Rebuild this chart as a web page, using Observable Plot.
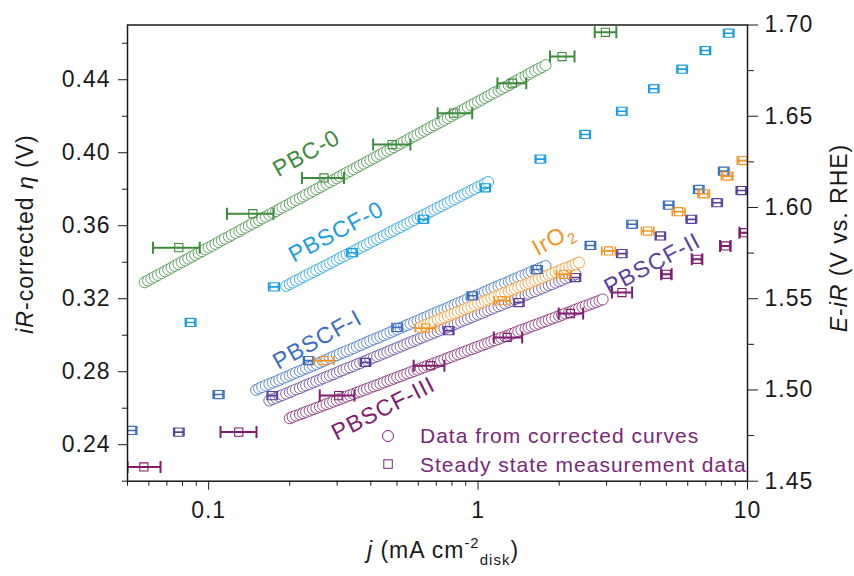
<!DOCTYPE html>
<html><head><meta charset="utf-8">
<script src="https://cdn.jsdelivr.net/npm/d3@7"></script>
<script src="https://cdn.jsdelivr.net/npm/@observablehq/plot@0.6"></script>
<style>
html,body{margin:0;padding:0;background:#fff;}
#chart svg text{letter-spacing:1px;}
</style></head><body><div id="chart"></div>
<script>
// ---------- Data from corrected curves (j in mA cm^-2 disk, eta in V) ----------
const pbc0J = [0.0579,0.0596,0.0613,0.0631,0.0649,0.0668,0.0688,0.0708,0.0729,0.0750,
0.0772,0.0794,0.0818,0.0841,0.0866,0.0891,0.0917,0.0944,0.0972,0.100,
0.103,0.106,0.109,0.112,0.115,0.119,0.122,0.126,0.130,0.133,
0.137,0.141,0.145,0.150,0.154,0.158,0.163,0.168,0.173,0.178,
0.183,0.188,0.194,0.200,0.205,0.211,0.218,0.224,0.230,0.237,
0.244,0.251,0.259,0.266,0.274,0.282,0.290,0.299,0.307,0.316,
0.325,0.335,0.345,0.355,0.365,0.376,0.387,0.398,0.410,0.422,
0.434,0.447,0.460,0.473,0.487,0.501,0.516,0.531,0.546,0.562,
0.579,0.596,0.613,0.631,0.649,0.668,0.688,0.708,0.729,0.750,
0.772,0.794,0.818,0.841,0.866,0.891,0.917,0.944,0.972,1.00,
1.03,1.06,1.09,1.12,1.15,1.19,1.22,1.26,1.30,1.33,
1.37,1.41,1.45,1.50,1.54,1.58,1.63,1.68,1.73,1.78];
const pbc0Eta = [0.329,0.330,0.331,0.332,0.333,0.334,0.335,0.336,0.337,0.338,
0.339,0.340,0.341,0.342,0.343,0.344,0.345,0.346,0.347,0.348,
0.349,0.350,0.351,0.352,0.353,0.354,0.355,0.356,0.357,0.358,
0.359,0.360,0.361,0.362,0.363,0.364,0.365,0.366,0.367,0.368,
0.369,0.370,0.371,0.372,0.373,0.374,0.375,0.376,0.377,0.378,
0.379,0.380,0.381,0.382,0.383,0.384,0.385,0.386,0.387,0.388,
0.389,0.390,0.391,0.392,0.393,0.394,0.395,0.396,0.397,0.398,
0.399,0.400,0.401,0.402,0.403,0.404,0.405,0.406,0.407,0.408,
0.409,0.410,0.411,0.412,0.413,0.414,0.415,0.416,0.417,0.418,
0.419,0.420,0.421,0.422,0.423,0.424,0.425,0.426,0.427,0.428,
0.429,0.430,0.431,0.432,0.433,0.434,0.435,0.436,0.437,0.438,
0.439,0.440,0.441,0.442,0.443,0.444,0.445,0.446,0.447,0.448];

const pbscf0J = [0.194,0.200,0.205,0.211,0.218,0.224,0.230,0.237,0.244,0.251,
0.259,0.266,0.274,0.282,0.290,0.299,0.307,0.316,0.325,0.335,
0.345,0.355,0.365,0.376,0.387,0.398,0.410,0.422,0.434,0.447,
0.460,0.473,0.487,0.501,0.516,0.531,0.546,0.562,0.579,0.596,
0.613,0.631,0.649,0.668,0.688,0.708,0.729,0.750,0.772,0.794,
0.818,0.841,0.866,0.891,0.917,0.944,0.972,1.00,1.03,1.06,1.09];
const pbscf0Eta = [0.3270,0.3280,0.3289,0.3299,0.3308,0.3318,0.3327,0.3337,0.3346,0.3356,
0.3365,0.3375,0.3384,0.3394,0.3403,0.3413,0.3422,0.3432,0.3441,0.3451,
0.3460,0.3470,0.3479,0.3489,0.3498,0.3508,0.3517,0.3527,0.3536,0.3546,
0.3555,0.3565,0.3574,0.3584,0.3593,0.3603,0.3612,0.3622,0.3631,0.3641,
0.3650,0.3660,0.3669,0.3679,0.3688,0.3698,0.3707,0.3717,0.3726,0.3736,
0.3745,0.3755,0.3764,0.3774,0.3783,0.3793,0.3802,0.3812,0.3821,0.3831,0.3840];

const pbscf1J = [0.150,0.154,0.158,0.163,0.168,0.173,0.178,0.183,0.188,0.194,
0.200,0.205,0.211,0.218,0.224,0.230,0.237,0.244,0.251,0.259,
0.266,0.274,0.282,0.290,0.299,0.307,0.316,0.325,0.335,0.345,
0.355,0.365,0.376,0.387,0.398,0.410,0.422,0.434,0.447,0.460,
0.473,0.487,0.501,0.516,0.531,0.546,0.562,0.579,0.596,0.613,
0.631,0.649,0.668,0.688,0.708,0.729,0.750,0.772,0.794,0.818,
0.841,0.866,0.891,0.917,0.944,0.972,1.00,1.03,1.06,1.09,
1.12,1.15,1.19,1.22,1.26,1.30,1.33,1.37,1.41,1.45,
1.50,1.54,1.58,1.63,1.68,1.73,1.78];
const pbscf1Eta = [0.2700,0.2708,0.2716,0.2724,0.2732,0.2740,0.2747,0.2755,0.2763,0.2771,
0.2779,0.2787,0.2795,0.2803,0.2811,0.2819,0.2826,0.2834,0.2842,0.2850,
0.2858,0.2866,0.2874,0.2882,0.2890,0.2898,0.2905,0.2913,0.2921,0.2929,
0.2937,0.2945,0.2953,0.2961,0.2969,0.2977,0.2984,0.2992,0.3000,0.3008,
0.3016,0.3024,0.3032,0.3040,0.3048,0.3056,0.3063,0.3071,0.3079,0.3087,
0.3095,0.3103,0.3111,0.3119,0.3127,0.3135,0.3142,0.3150,0.3158,0.3166,
0.3174,0.3182,0.3190,0.3198,0.3206,0.3214,0.3221,0.3229,0.3237,0.3245,
0.3253,0.3261,0.3269,0.3277,0.3285,0.3293,0.3300,0.3308,0.3316,0.3324,
0.3332,0.3340,0.3348,0.3356,0.3364,0.3372,0.3379];

const iro2J = [0.613,0.631,0.649,0.668,0.688,0.708,0.729,0.750,0.772,0.794,
0.818,0.841,0.866,0.891,0.917,0.944,0.972,1.00,1.03,1.06,
1.09,1.12,1.15,1.19,1.22,1.26,1.30,1.33,1.37,1.41,
1.45,1.50,1.54,1.58,1.63,1.68,1.73,1.78,1.83,1.88,
1.94,2.00,2.05,2.11,2.18,2.24,2.30,2.37];
const iro2Eta = [0.3045,0.3053,0.3060,0.3068,0.3075,0.3083,0.3090,0.3098,0.3105,0.3113,
0.3120,0.3128,0.3135,0.3143,0.3150,0.3158,0.3165,0.3173,0.3180,0.3188,
0.3195,0.3203,0.3210,0.3218,0.3225,0.3233,0.3240,0.3248,0.3255,0.3263,
0.3270,0.3278,0.3285,0.3293,0.3300,0.3308,0.3315,0.3323,0.3330,0.3338,
0.3345,0.3353,0.3360,0.3368,0.3375,0.3383,0.3390,0.3398];

const pbscf2J = [0.168,0.173,0.178,0.183,0.188,0.194,0.200,0.205,0.211,0.218,
0.224,0.230,0.237,0.244,0.251,0.259,0.266,0.274,0.282,0.290,
0.299,0.307,0.316,0.325,0.335,0.345,0.355,0.365,0.376,0.387,
0.398,0.410,0.422,0.434,0.447,0.460,0.473,0.487,0.501,0.516,
0.531,0.546,0.562,0.579,0.596,0.613,0.631,0.649,0.668,0.688,
0.708,0.729,0.750,0.772,0.794,0.818,0.841,0.866,0.891,0.917,
0.944,0.972,1.00,1.03,1.06,1.09,1.12,1.15,1.19,1.22,
1.26,1.30,1.33,1.37,1.41,1.45,1.50,1.54,1.58,1.63,
1.68,1.73,1.78,1.83,1.88,1.94,2.00,2.05,2.11,2.18,
2.24,2.30];
const pbscf2Eta = [0.2642,0.2650,0.2657,0.2665,0.2672,0.2680,0.2688,0.2695,0.2703,0.2710,
0.2718,0.2726,0.2733,0.2741,0.2748,0.2756,0.2764,0.2771,0.2779,0.2786,
0.2794,0.2802,0.2809,0.2817,0.2824,0.2832,0.2840,0.2847,0.2855,0.2862,
0.2870,0.2878,0.2885,0.2893,0.2900,0.2908,0.2916,0.2923,0.2931,0.2938,
0.2946,0.2954,0.2961,0.2969,0.2976,0.2984,0.2992,0.2999,0.3007,0.3014,
0.3022,0.3030,0.3037,0.3045,0.3052,0.3060,0.3068,0.3075,0.3083,0.3090,
0.3098,0.3106,0.3113,0.3121,0.3128,0.3136,0.3144,0.3151,0.3159,0.3166,
0.3174,0.3182,0.3189,0.3197,0.3204,0.3212,0.3220,0.3227,0.3235,0.3242,
0.3250,0.3258,0.3265,0.3273,0.3280,0.3288,0.3296,0.3303,0.3311,0.3318,
0.3326,0.3334];

const pbscf3J = [0.200,0.205,0.211,0.218,0.224,0.230,0.237,0.244,0.251,0.259,
0.266,0.274,0.282,0.290,0.299,0.307,0.316,0.325,0.335,0.345,
0.355,0.365,0.376,0.387,0.398,0.410,0.422,0.434,0.447,0.460,
0.473,0.487,0.501,0.516,0.531,0.546,0.562,0.579,0.596,0.613,
0.631,0.649,0.668,0.688,0.708,0.729,0.750,0.772,0.794,0.818,
0.841,0.866,0.891,0.917,0.944,0.972,1.00,1.03,1.06,1.09,
1.12,1.15,1.19,1.22,1.26,1.30,1.33,1.37,1.41,1.45,
1.50,1.54,1.58,1.63,1.68,1.73,1.78,1.83,1.88,1.94,
2.00,2.05,2.11,2.18,2.24,2.30,2.37,2.44,2.51,2.59,
2.66,2.74,2.82,2.90];
const pbscf3Eta = [0.2545,0.2552,0.2559,0.2566,0.2573,0.2580,0.2587,0.2594,0.2601,0.2608,
0.2615,0.2622,0.2629,0.2636,0.2643,0.2650,0.2657,0.2664,0.2671,0.2678,
0.2685,0.2692,0.2699,0.2706,0.2713,0.2720,0.2727,0.2734,0.2741,0.2748,
0.2755,0.2762,0.2769,0.2776,0.2783,0.2790,0.2797,0.2804,0.2811,0.2818,
0.2825,0.2832,0.2839,0.2846,0.2853,0.2860,0.2867,0.2874,0.2881,0.2888,
0.2895,0.2902,0.2909,0.2916,0.2923,0.2930,0.2937,0.2944,0.2951,0.2958,
0.2965,0.2972,0.2979,0.2986,0.2993,0.3000,0.3007,0.3014,0.3021,0.3028,
0.3035,0.3042,0.3049,0.3056,0.3063,0.3070,0.3077,0.3084,0.3091,0.3098,
0.3105,0.3112,0.3119,0.3126,0.3133,0.3140,0.3147,0.3154,0.3161,0.3168,
0.3175,0.3182,0.3189,0.3196];

// ---------- Steady state measurement data (j, eta, j error low / high) ----------
const ssPbc0J   = [0.0775,0.146,0.268,0.480,0.812,1.34,2.05,2.97];
const ssPbc0Eta = [0.348,0.3666,0.3862,0.4045,0.4217,0.4381,0.4527,0.466];
const ssPbc0Lo  = [0.0622,0.117,0.222,0.408,0.708,1.18,1.85,2.71];
const ssPbc0Hi  = [0.0927,0.174,0.318,0.561,0.951,1.51,2.28,3.26];

const ssPbscf0J   = [0.0857,0.175,0.341,0.627,1.065,1.70,2.50,3.42,4.49,5.72,6.98,8.52];
const ssPbscf0Eta = [0.307,0.3265,0.3452,0.3635,0.3808,0.3965,0.410,0.4227,0.4351,0.4458,0.456,0.4655];
const ssPbscf0Lo  = [0.0820,0.167,0.326,0.600,1.02,1.63,2.39,3.27,4.30,5.47,6.68,8.15];
const ssPbscf0Hi  = [0.0896,0.183,0.356,0.655,1.11,1.78,2.61,3.57,4.69,5.98,7.29,8.90];

const ssPbscf1J   = [0.0518,0.109,0.235,0.501,0.953,1.656,2.61,3.73,5.10,6.59,8.16];
const ssPbscf1Eta = [0.2478,0.2675,0.2861,0.3043,0.3216,0.336,0.3492,0.3608,0.3713,0.3799,0.3899];
const ssPbscf1Lo  = [0.0496,0.104,0.225,0.479,0.912,1.58,2.50,3.57,4.88,6.31,7.81];
const ssPbscf1Hi  = [0.0541,0.114,0.246,0.524,0.996,1.73,2.73,3.90,5.33,6.89,8.53];

const ssIro2J   = [0.268,0.638,1.228,2.08,3.05,4.26,5.55,6.88,8.40,9.63];
const ssIro2Eta = [0.2861,0.3039,0.3189,0.3334,0.3462,0.3571,0.3677,0.3775,0.3872,0.3957];
const ssIro2Lo  = [0.246,0.585,1.148,1.953,2.877,4.04,5.26,6.55,8.00,9.17];
const ssIro2Hi  = [0.292,0.695,1.314,2.215,3.233,4.49,5.86,7.22,8.82,10.1];

const ssPbscf2J   = [0.0775,0.172,0.382,0.778,1.416,2.30,3.42,4.75,6.19,7.71,9.49];
const ssPbscf2Eta = [0.2469,0.2669,0.2851,0.3025,0.3179,0.3316,0.3447,0.3544,0.3635,0.3726,0.3793];
const ssPbscf2Lo  = [0.0742,0.165,0.366,0.745,1.36,2.20,3.27,4.55,5.92,7.38,9.08];
const ssPbscf2Hi  = [0.0810,0.180,0.399,0.813,1.48,2.40,3.57,4.96,6.47,8.06,9.92];

const ssPbscf3J   = [0.0575,0.1294,0.304,0.666,1.282,2.20,3.42,5.00,6.50,8.28,9.76];
const ssPbscf3Eta = [0.2278,0.2469,0.2669,0.2833,0.2988,0.3119,0.3234,0.3334,0.3416,0.3489,0.3562];
const ssPbscf3Lo  = [0.050,0.1107,0.2585,0.577,1.144,1.992,3.14,4.78,6.21,7.91,9.33];
const ssPbscf3Hi  = [0.0663,0.1506,0.3477,0.750,1.458,2.455,3.73,5.23,6.80,8.66,10.2];

// ---------- Tick values ----------
const xMajorTicks = [0.1, 1, 10];
const xMinorTicks = [0.05,0.06,0.07,0.08,0.09,0.2,0.3,0.4,0.5,0.6,0.7,0.8,0.9,2,3,4,5,6,7,8,9];
const etaMajorTicks = [0.24,0.28,0.32,0.36,0.40,0.44];
const etaMinorTicks = [0.22,0.26,0.30,0.34,0.38,0.42,0.46];
const eMajorTicks = [1.45,1.50,1.55,1.60,1.65,1.70];
const eMinorTicks = [1.475,1.525,1.575,1.625,1.675];
const eOffset = 1.23; // E - iR = 1.23 V + eta

// ---------- Styling ----------
const C = {pbc0:"#3d8c3d", pbscf0:"#1b9de2", pbscf1:"#3a6ec3", iro2:"#f7921e", pbscf2:"#5a3f9d", pbscf3:"#7f1d6e"};
const legendColor = "#7b2677";
const rows = (J, E) => J.map((j, i) => ({j, eta: E[i]}));
const vline = {draw(ctx, size){ const h = Math.sqrt(size/Math.PI); ctx.moveTo(0,-h); ctx.lineTo(0,h); }};

function curve(J, E, color){
  return Plot.dot(rows(J,E), {x:"j", y:"eta", r:5.5, fill:"white", stroke:color, strokeWidth:0.8});
}
function steady(J, E, Lo, Hi, color, w, cap){
  const d = J.map((j,i) => ({j, eta:E[i], lo:Lo[i], hi:Hi[i]}));
  return [
    Plot.ruleY(d, {y:"eta", x1:"lo", x2:"hi", stroke:color, strokeWidth:w, clip:true}),
    Plot.dot(d, {x:"lo", y:"eta", symbol:vline, r:cap, stroke:color, strokeWidth:w, fill:"none", clip:true}),
    Plot.dot(d, {x:"hi", y:"eta", symbol:vline, r:cap, stroke:color, strokeWidth:w, fill:"none", clip:true}),
    Plot.dot(d, {x:"j", y:"eta", symbol:"square", r:4.6, stroke:color, strokeWidth:1.1, fill:"none", clip:true})
  ];
}

const chart = Plot.plot({
  width: 854, height: 576,
  marginLeft: 127, marginRight: 107, marginTop: 24.5, marginBottom: 95.3,
  style: {fontFamily: '"Liberation Sans", Arial, sans-serif', fontSize: "23px", color: "#1a1a1a", background: "#fff", overflow: "visible"},
  x: {type: "log", domain: [0.05, 10]},
  y: {domain: [0.22, 0.47]},
  marks: [
    curve(pbc0J, pbc0Eta, C.pbc0),
    curve(pbscf0J, pbscf0Eta, C.pbscf0),
    curve(pbscf3J, pbscf3Eta, C.pbscf3),
    curve(pbscf2J, pbscf2Eta, C.pbscf2),
    curve(pbscf1J, pbscf1Eta, C.pbscf1),
    curve(iro2J, iro2Eta, C.iro2),
    steady(ssPbc0J, ssPbc0Eta, ssPbc0Lo, ssPbc0Hi, C.pbc0, 2, 6),
    steady(ssPbscf0J, ssPbscf0Eta, ssPbscf0Lo, ssPbscf0Hi, C.pbscf0, 1.6, 4.5),
    steady(ssPbscf1J, ssPbscf1Eta, ssPbscf1Lo, ssPbscf1Hi, C.pbscf1, 1.6, 4.5),
    steady(ssPbscf2J, ssPbscf2Eta, ssPbscf2Lo, ssPbscf2Hi, C.pbscf2, 1.6, 4.5),
    steady(ssIro2J, ssIro2Eta, ssIro2Lo, ssIro2Hi, C.iro2, 1.6, 4.5),
    steady(ssPbscf3J, ssPbscf3Eta, ssPbscf3Lo, ssPbscf3Hi, C.pbscf3, 2, 6),
    Plot.axisY({anchor:"left", ticks: etaMajorTicks, tickSize: 9, tickPadding: 8, tickFormat: d => d.toFixed(2), label: null}),
    Plot.axisY({anchor:"left", ticks: etaMinorTicks, tickSize: 5, tickFormat: () => "", label: null}),
    Plot.axisY({anchor:"right", ticks: eMajorTicks.map(e => e - eOffset), tickSize: 10, tickPadding: 7, tickFormat: d => (d + eOffset).toFixed(2), label: null}),
    Plot.axisY({anchor:"right", ticks: eMinorTicks.map(e => e - eOffset), tickSize: 6, tickFormat: () => "", label: null}),
    Plot.axisX({anchor:"bottom", ticks: xMajorTicks, tickSize: 9, tickPadding: 11, tickFormat: d => String(d), label: null}),
    Plot.axisX({anchor:"bottom", ticks: xMinorTicks, tickSize: 5, tickFormat: () => "", label: null}),
    Plot.frame({stroke: "#1a1a1a", strokeWidth: 1.5})
  ]
});
document.getElementById("chart").append(chart);

const xs = chart.scale("x"), ys = chart.scale("y");
const svg = d3.select(chart);

// in-plot series labels (anchored in data coordinates)
const seriesLabels = [
  {t:"PBC-0", j:0.231, e:0.3997, a:-29, c:C.pbc0},
  {t:"PBSCF-0", j:0.298, e:0.3566, a:-28, c:C.pbscf0},
  {t:"PBSCF-I", j:0.2535, e:0.2975, a:-29, c:C.pbscf1},
  {t:"PBSCF-III", j:0.446, e:0.2598, a:-27, c:C.pbscf3},
  {t:"PBSCF-II", j:4.44, e:0.3391, a:-28, c:C.pbscf2},
  {t:"IrO", sub:"2", j:1.905, e:0.3527, a:-29, c:C.iro2}
];
const lg = svg.append("g").attr("font-size", 23);
for (const L of seriesLabels) {
  const t = lg.append("text")
    .attr("transform", `translate(${xs.apply(L.j)},${ys.apply(L.e)}) rotate(${L.a})`)
    .attr("text-anchor", "middle").attr("dy", "0.35em").attr("fill", L.c);
  t.append("tspan").text(L.t);
  if (L.sub) t.append("tspan").attr("font-size", 15).attr("dy", 6).text(L.sub);
}

// axis titles
const lt = svg.append("text").attr("transform", "translate(33,234) rotate(-90)").attr("text-anchor", "middle").attr("font-size", 23).attr("fill", "#1a1a1a");
lt.append("tspan").attr("font-style", "italic").text("iR");
lt.append("tspan").text("-corrected ");
lt.append("tspan").attr("font-style", "italic").text("η");
lt.append("tspan").text(" (V)");

const rt = svg.append("text").attr("transform", "translate(847,238) rotate(-90)").attr("text-anchor", "middle").attr("font-size", 23).attr("fill", "#1a1a1a");
rt.append("tspan").attr("font-style", "italic").text("E");
rt.append("tspan").text("-");
rt.append("tspan").attr("font-style", "italic").text("iR");
rt.append("tspan").text(" (V vs. RHE)");

const bt = svg.append("text").attr("x", 443).attr("y", 558).attr("text-anchor", "middle").attr("font-size", 23).attr("fill", "#1a1a1a");
bt.append("tspan").attr("font-style", "italic").text("j");
bt.append("tspan").text(" (mA cm");
bt.append("tspan").attr("font-size", 15).attr("dy", -10).text("-2");
bt.append("tspan").attr("font-size", 15).attr("dy", 17).text("disk");
bt.append("tspan").attr("dy", -7).text(")");

// legend
svg.append("circle").attr("cx", 388).attr("cy", 436).attr("r", 5.5).attr("fill", "none").attr("stroke", legendColor).attr("stroke-width", 1);
svg.append("rect").attr("x", 383.8).attr("y", 459.8).attr("width", 8.5).attr("height", 8.5).attr("fill", "none").attr("stroke", legendColor).attr("stroke-width", 1);
svg.append("text").attr("x", 420).attr("y", 443).attr("text-anchor", "start").attr("font-size", 21).attr("fill", legendColor).text("Data from corrected curves");
svg.append("text").attr("x", 420).attr("y", 472).attr("text-anchor", "start").attr("font-size", 21).attr("fill", legendColor).text("Steady state measurement data");
</script></body></html>
